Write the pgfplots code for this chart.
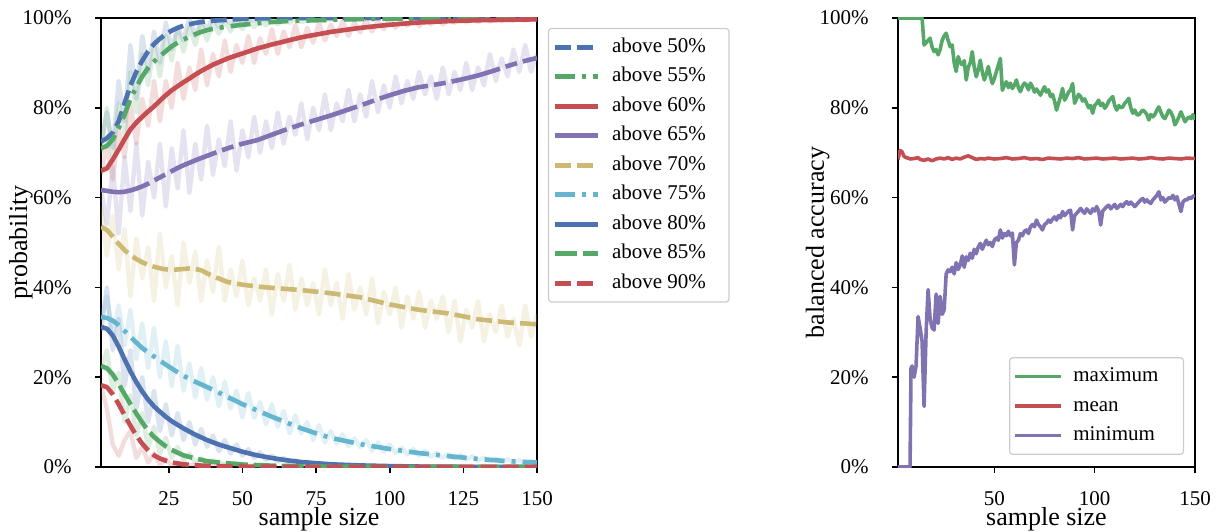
\documentclass[border=0pt]{standalone}
\usepackage{fontspec}
\setmainfont{Liberation Serif}
\usepackage{pgfplots}
\pgfplotsset{compat=1.18}
\definecolor{sbblue}{HTML}{4C72B0}
\definecolor{sbgreen}{HTML}{55A868}
\definecolor{sbred}{HTML}{C44E52}
\definecolor{sbpurple}{HTML}{8172B2}
\definecolor{sbgold}{HTML}{CCB974}
\definecolor{sbcyan}{HTML}{64B5CD}
\pgfplotsset{
  common/.style={
    scale only axis, height=224.5pt,
    ymin=0, ymax=100, xmin=2, xmax=150,
    ytick={0,20,...,100},
    /pgf/number format/assume math mode=true,
    yticklabel={\pgfmathprintnumber{\tick}\%},
    tick pos=left, tick align=outside, major tick length=3pt,
    tick style={black, line width=0.8pt},
    axis line style={black, line width=0.9pt},
    tick label style={font=\fontsize{10.5}{12}\selectfont},
    xticklabel style={anchor=base, inner ysep=0pt, yshift=-16pt},
    yticklabel style={anchor=east, inner xsep=0pt, xshift=-11.5pt},
    label style={font=\fontsize{13}{15}\selectfont},
    xlabel style={inner ysep=0pt},
    legend cell align=left,
  },
  faint/.style={line width=2.2pt, opacity=0.2, line join=round, forget plot},
  main/.style={line width=2.3pt, line join=round, line cap=butt},
  dashA/.style={dash pattern=on 8pt off 3pt},
  dashDot/.style={dash pattern=on 10pt off 3.5pt on 2pt off 3.5pt},
  dashLS/.style={dash pattern=on 25pt off 3pt on 6pt off 3pt},
  dashB/.style={dash pattern=on 11pt off 3pt},
}
\begin{document}
\begin{tikzpicture}
\path[use as bounding box] (-50.5pt,-32pt) rectangle (558pt,233.5pt);
\begin{axis}[common, at={(0pt,0pt)}, anchor=south west, width=218pt,
  xtick={25,50,...,150},
  xlabel={sample size}, ylabel={probability},
  xlabel style={at={(axis description cs:0.5,-0.1292)}, anchor=base},
  ylabel style={at={(axis description cs:-0.1697,0.5)}, anchor=base},
  legend style={at={(1.025,0.978)}, anchor=north west, draw=black!20, rounded corners=1.5pt,
    line width=0.6pt, inner sep=2pt, row sep=0pt, font=\fontsize{10.5}{12}\selectfont,
    nodes={inner sep=2.5pt, text height=7.5pt, text depth=2.25pt},
    /tikz/every odd column/.append style={column sep=3.5pt}},
  legend image code/.code={\draw[#1] (0pt,0pt) -- (21.5pt,0pt);},
]
% faint raw series
\addplot[faint, sbblue] coordinates {(2,72)(4,79)(6,71)(8,86)(10,77)(12,94)(14,82)(16,96)(18,88)(20,97)(22,90)(24,99)(26,93)(28,98)(30,95)(32,100)(34,96)(36,99.5)(38,97.5)(40,100)(42,98)(44,99.8)(46,98.8)(48,100)(50,99)(52,100)(54,99.4)(56,100)(58,99.5)(60,100)};
\addplot[faint, sbgreen] coordinates {(2,70)(4,80)(6,69)(8,81)(10,74)(12,88)(14,79)(16,92)(18,85)(20,94)(22,87)(24,96)(26,90.5)(28,97.5)(30,92.5)(32,98)(34,94)(36,99)(38,95)(40,99)(42,96.5)(44,99.3)(46,97)(48,99.5)(50,97.5)(52,99.6)(54,98)(56,99.7)(58,98.3)(60,99.8)(62,98.6)(64,99.8)(66,98.9)(68,99.9)(70,99.1)(74,99.9)(78,99.4)(82,99.9)};
\addplot[faint, sbred] coordinates {(2,65)(4,72)(6,64)(8,75)(10,69)(12,81)(14,72)(16,82)(18,76)(20,86)(22,77)(24,86)(26,80)(28,90)(30,82)(32,89)(34,84)(36,93)(38,85)(40,92)(42,87)(44,95)(46,88)(48,94)(50,90)(52,96)(54,90)(56,95.5)(58,92)(60,97.5)(62,92)(64,97)(66,93.5)(68,98.5)(70,93.5)(72,97.8)(74,94.5)(76,99)(78,95)(80,98.5)(82,96)(84,99.3)(86,96)(88,99)(90,96.8)(92,99.6)(94,97)(96,99.3)(98,97.5)(100,99.8)(102,97.8)(104,99.5)(106,98.3)(108,99.9)(110,98.2)(112,99.7)(114,98.6)(116,100)(118,98.6)(120,99.8)(122,98.9)(124,100)(126,99)(128,99.9)(130,99.1)(132,100)(134,99.2)(136,99.9)(138,99.3)(140,100)(142,99.4)(144,100)(146,99.4)(148,100)(150,99.5)};
\addplot[faint, sbpurple] coordinates {(2,62)(4,54)(6,67)(8,52)(10,69)(12,57)(14,72)(16,56)(18,68)(20,60)(22,72)(24,58)(26,71)(28,62)(30,75)(32,61)(34,72)(36,64)(38,76)(40,65)(42,73)(44,67)(46,77)(48,66)(50,75)(52,69)(54,78)(56,70)(58,77)(60,71)(62,79)(64,72)(66,78)(68,74)(70,81)(72,73)(74,80)(76,75)(78,83)(80,75)(82,81)(84,77)(86,84)(88,77)(90,83)(92,78)(94,86)(96,79)(98,85)(100,80)(102,87)(104,81)(106,86)(108,82)(110,88)(112,83)(114,87)(116,82)(118,89)(120,83)(122,88)(124,84)(126,90)(128,84)(130,89)(132,85)(134,92)(136,86)(138,91)(140,87)(142,93)(144,88)(146,94)(148,88)(150,92)};
\addplot[faint, sbgold] coordinates {(2,58)(4,47)(6,56)(8,44)(10,53)(12,38)(14,51)(16,42)(18,49)(20,37)(22,52)(24,40)(26,47)(28,36)(30,50)(32,41)(34,48)(36,37)(38,46)(40,39)(42,49)(44,37)(46,44)(48,38)(50,46)(52,36)(54,42)(56,37)(58,44)(60,34)(62,43)(64,37)(66,45)(68,35)(70,42)(72,36)(74,41)(76,34)(78,44)(80,36)(82,41)(84,33)(86,43)(88,35)(90,40)(92,34)(94,42)(96,32)(98,39)(100,34)(102,40)(104,31)(106,38)(108,33)(110,39)(112,31)(114,37)(116,33)(118,38)(120,30)(122,37)(124,28)(126,35)(128,31)(130,37)(132,28)(134,34)(136,30)(138,36)(140,29)(142,33)(144,27)(146,36)(148,29)(150,34)};
\addplot[faint, sbcyan] coordinates {(2,33)(4,38)(6,29)(8,36)(10,27)(12,35)(14,24)(16,32)(18,22)(20,31)(22,20)(24,28)(26,18)(28,27)(30,17)(32,23)(34,15.5)(36,22)(38,15)(40,20)(42,13.5)(44,19)(46,13)(48,17)(50,11)(52,16.5)(54,11)(56,14.5)(58,9.5)(60,14)(62,9)(64,12.5)(66,7.5)(68,11.5)(70,7.5)(72,10)(74,6)(76,9.3)(78,5.5)(80,8)(82,5.2)(84,7.3)(86,4.6)(88,6.4)(90,4.4)(92,6)(94,3.6)(96,5.4)(98,3.4)(100,5)(102,3.1)(104,4.3)(106,2.8)(108,4)(110,2.5)(112,3.6)(114,2.3)(116,3.2)(118,2)(120,3)(122,1.8)(124,2.7)(126,1.6)(128,2.4)(130,1.4)(132,2.1)(134,1.3)(136,1.9)(138,1.1)(140,1.7)(142,1)(144,1.5)(146,0.8)(148,1.3)(150,0.8)};
\addplot[faint, sbblue] coordinates {(2,30)(4,40)(6,26)(8,33)(10,18)(12,26)(14,13)(16,20)(18,10)(20,17)(22,8)(24,14)(26,7)(28,12)(30,6)(32,10)(34,5)(36,8.5)(38,4.5)(40,7)(42,3.5)(44,6)(46,3)(48,5)(50,2.5)(52,4)(54,2)(56,3.3)(58,1.6)(60,2.6)(62,1.2)(64,2)(66,1)(68,1.5)(70,0.8)(72,1.2)(74,0.5)(76,0.9)(78,0.4)(80,0.7)(84,0.4)(88,0.3)(90,0.2)};
\addplot[faint, sbgreen] coordinates {(2,22)(4,26)(6,17)(8,21)(10,10)(12,16)(14,7)(16,12)(18,4)(20,9)(22,3)(24,6.5)(26,2)(28,4.5)(30,1.5)(32,3)(34,1)(36,2)(38,0.7)(40,1.5)(44,0.6)(48,0.8)(52,0.3)(56,0.4)(60,0.2)};
\addplot[faint, sbred] coordinates {(2,18)(4,13)(6,5)(8,2.5)(10,6)(12,8)(14,2)(16,4.5)(18,1)(20,3)(22,0.5)(24,1.8)(26,0.3)(28,1)(30,0.2)(34,0.5)(38,0.1)(42,0.2)(46,0)};
% smoothed series
\addplot[main, sbblue, dashA] coordinates {(2,72.5)(4,73.2)(6,74.5)(8,77)(10,81)(12,85)(14,88)(16,90.5)(18,92.6)(20,94.2)(22,95.4)(24,96.4)(26,97.2)(28,97.8)(30,98.3)(32,98.6)(34,98.9)(36,99.1)(38,99.3)(40,99.4)(45,99.6)(50,99.8)(55,99.9)(60,99.95)(70,100)(150,100)};
\addlegendentry{above 50\%\kern7pt}
\addplot[main, sbgreen, dashDot] coordinates {(2,71)(4,71.5)(6,73)(8,75.5)(10,78.5)(12,82)(14,84.6)(16,87)(18,88.9)(20,90.3)(22,91.5)(24,92.6)(26,93.7)(28,94.5)(30,95.2)(32,95.8)(34,96.4)(36,96.9)(38,97.3)(40,97.6)(45,98.1)(50,98.5)(55,98.8)(60,99.1)(65,99.3)(70,99.4)(80,99.6)(90,99.75)(100,99.85)(110,99.9)(120,99.95)(130,100)(150,100)};
\addlegendentry{above 55\%}
\addplot[main, sbred] coordinates {(2,66)(4,66.5)(6,68.5)(8,70.7)(10,73)(12,75.2)(14,76.7)(16,78)(18,79.2)(20,80.3)(22,81.6)(24,82.8)(26,83.9)(28,84.8)(30,85.7)(32,86.5)(34,87.4)(36,88.2)(38,88.9)(40,89.6)(45,91)(50,92.1)(55,93.2)(60,94.1)(65,94.9)(70,95.7)(80,96.9)(90,97.8)(100,98.5)(110,99)(120,99.3)(130,99.5)(140,99.6)(150,99.7)};
\addlegendentry{above 60\%}
\addplot[main, sbpurple, dashLS] coordinates {(2,61.7)(4,61.5)(6,61.3)(8,61.2)(10,61.3)(12,61.6)(14,62)(16,62.5)(18,63.1)(20,63.8)(22,64.5)(24,65.2)(26,65.9)(28,66.6)(30,67.2)(34,68.3)(38,69.3)(42,70.3)(46,71.2)(50,72)(55,72.8)(60,74)(65,75.2)(70,76.3)(75,77.3)(80,78.3)(85,79.4)(90,80.5)(95,81.7)(100,82.8)(105,83.8)(110,84.6)(115,85.1)(120,85.7)(125,86.4)(130,87.2)(135,88.2)(140,89.3)(145,90.3)(150,91.1)};
\addlegendentry{above 65\%}
\addplot[main, sbgold, dashA] coordinates {(2,53.5)(4,52.8)(6,51.3)(8,49.7)(10,48.3)(12,47.2)(14,46.3)(16,45.6)(18,45)(20,44.6)(23,44.1)(26,43.9)(30,44.1)(33,44.3)(36,43.8)(40,42.5)(45,41.2)(50,40.6)(55,40.2)(60,39.9)(70,39.4)(80,38.7)(90,37.8)(95,37)(100,36.2)(110,35)(120,34.2)(130,32.9)(140,32.2)(150,31.8)};
\addlegendentry{above 70\%}
\addplot[main, sbcyan, dashDot] coordinates {(2,33.4)(4,33.2)(6,32.6)(8,31.6)(10,30.3)(12,29)(14,27.7)(16,26.5)(18,25.5)(20,24.6)(24,22.8)(28,21.1)(32,19.6)(36,18.4)(40,17.2)(45,15.6)(50,14)(55,12.6)(60,11.2)(65,9.9)(70,8.6)(75,7.5)(80,6.5)(90,5.1)(100,4)(110,3.1)(120,2.4)(130,1.8)(140,1.3)(150,1)};
\addlegendentry{above 75\%}
\addplot[main, sbblue] coordinates {(2,31.2)(4,30.8)(6,29.3)(8,26.8)(10,24)(12,21.3)(14,18.9)(16,16.8)(18,15)(20,13.5)(22,12.3)(24,11.2)(26,10.2)(28,9.4)(30,8.6)(34,7.2)(38,6)(42,5)(46,4.2)(50,3.4)(55,2.6)(60,2)(65,1.5)(70,1.1)(80,0.6)(90,0.35)(100,0.2)(110,0.1)(120,0.05)(150,0)};
\addlegendentry{above 80\%}
\addplot[main, sbgreen, dashB] coordinates {(2,22.5)(4,22)(6,20.6)(8,18.5)(10,16.2)(12,14)(14,11.9)(16,9.9)(18,8.1)(20,6.7)(22,5.6)(24,4.6)(26,3.8)(28,3.2)(30,2.6)(34,1.9)(38,1.3)(42,1)(50,0.55)(60,0.3)(70,0.15)(80,0.08)(100,0.03)(150,0)};
\addlegendentry{above 85\%}
\addplot[main, sbred, dashA] coordinates {(2,18.2)(4,17.8)(6,16.2)(8,14)(10,11.5)(12,9.2)(14,7)(16,5.2)(18,3.7)(20,2.6)(22,1.9)(24,1.4)(26,1)(30,0.6)(35,0.35)(40,0.2)(50,0.1)(60,0.05)(80,0)(150,0)};
\addlegendentry{above 90\%}
\end{axis}

\begin{axis}[common, at={(398.5pt,0pt)}, anchor=south west, width=148.5pt,
  xtick={50,100,150},
  xlabel={sample size}, ylabel={balanced accuracy},
  xlabel style={at={(axis description cs:0.5,-0.1292)}, anchor=base},
  ylabel style={at={(axis description cs:-0.2492,0.5)}, anchor=base},
  legend style={at={(0.963,0.027)}, anchor=south east, draw=black!20, rounded corners=1.5pt,
    line width=0.6pt, inner sep=2pt, row sep=0pt, font=\fontsize{10.5}{12}\selectfont,
    nodes={inner sep=2.5pt, text height=7.5pt, text depth=2.25pt},
    /tikz/every odd column/.append style={column sep=2.5pt}},
  legend image code/.code={\draw[#1] (0pt,0pt) -- (23pt,0pt);},
]
\addplot[sbgreen, line width=1.8pt, line join=round] coordinates {(2,100)(14,100)(15,94)(16,94.5)(17,95)(18,95.5)(19,93.5)(20,92.5)(21,93)(22,91.8)(23,93)(24,95)(25,96)(26,96.6)(27,95)(28,93.6)(29,94)(30,90)(31,88.1)(32,91.4)(33,90)(34,89.6)(35,90.5)(36,86.2)(37,89)(38,90)(39,92.5)(40,89)(41,86.9)(42,88.5)(43,90.6)(44,88)(45,86.2)(46,87.5)(47,89.2)(48,87)(49,85.4)(50,86.5)(51,88)(52,89.5)(53,91)(54,83.9)(55,85)(56,85.8)(57,84.5)(58,85.5)(59,84.3)(60,85)(61,86.2)(62,84.5)(63,83.6)(64,84.8)(65,85.5)(66,85.1)(67,84)(68,85.5)(69,84.7)(70,83.5)(71,84.2)(72,83.5)(73,82.8)(74,83.8)(75,84.7)(76,83.5)(77,84)(78,82.5)(79,83)(80,81.5)(81,79.5)(82,81)(83,82.5)(84,84.3)(85,81.7)(86,82.5)(87,83.5)(88,84)(89,85.4)(90,81)(91,82)(92,83)(93,82.5)(94,81.5)(95,82)(96,81)(97,80)(98,80.5)(99,78.8)(100,80.5)(101,81)(102,81.7)(103,80.5)(104,81)(105,79.9)(106,80.5)(107,81.5)(108,82)(109,82.5)(110,80.5)(111,79.5)(112,80.5)(113,80)(114,80.2)(115,81)(116,81.5)(117,82.1)(118,80)(119,78.8)(120,79.5)(121,78.5)(122,78.4)(123,79)(124,79.5)(125,79.1)(126,78.5)(127,77.3)(128,78.5)(129,78)(130,78.5)(131,79.5)(132,80.2)(133,79)(134,78)(135,77.6)(136,78.5)(137,79.5)(138,79)(139,78)(140,76.2)(141,77)(142,78)(143,79.1)(144,78)(145,76.9)(146,77.5)(147,78)(148,77.6)(149,78.5)(150,77.3)};
\addlegendentry{maximum\kern8pt}
\addplot[sbred, line width=1.8pt, line join=round] coordinates {(2,68.5)(3,70.5)(4,70.2)(5,69.2)(6,68.9)(7,68.8)(8,68.6)(10,68.7)(12,68.9)(13,68.5)(15,68.3)(17,68.6)(19,68.2)(21,68.6)(23,68.8)(25,68.6)(27,68.9)(29,68.5)(31,68.8)(33,68.6)(35,69)(37,69.3)(39,68.9)(41,68.5)(43,68.7)(45,68.6)(47,68.8)(50,68.6)(53,68.7)(56,68.9)(59,68.6)(62,68.7)(65,68.9)(68,68.6)(71,68.7)(74,68.5)(77,68.8)(80,68.7)(83,68.6)(86,68.8)(89,68.7)(92,68.9)(95,68.6)(98,68.7)(101,68.8)(104,68.6)(107,68.7)(110,68.8)(113,68.6)(116,68.7)(119,68.8)(122,68.6)(125,68.7)(128,68.9)(131,68.7)(134,68.6)(137,68.8)(140,68.7)(143,68.6)(146,68.8)(150,68.7)};
\addlegendentry{mean}
\addplot[sbpurple, line width=1.8pt, line join=round] coordinates {(2,0)(8,0)(8.5,22)(9,22.5)(10,20)(11,22.5)(12,33.5)(13,31)(14,28)(15,13.5)(16,30)(17,39.5)(18,33)(19,31)(20,30.5)(21,38.5)(22,32)(23,38)(24,34)(25,35)(26,43)(27,43.9)(28,43.5)(29,44.5)(30,43)(31,45.5)(32,44)(33,45)(34,47)(35,44.5)(36,46.8)(37,46)(38,47.6)(39,46.5)(40,48.5)(41,47.5)(42,49)(43,49.8)(44,48.5)(45,49.5)(46,50.5)(47,49.5)(48,50)(49,49.1)(50,50.5)(51,51)(52,50.5)(53,52.8)(54,51)(55,52)(56,51.5)(57,52.5)(58,51.5)(59,52.1)(60,45)(61,50)(62,50.5)(63,52)(64,51.5)(65,52.5)(66,52.8)(67,52)(68,53.5)(69,54)(70,53.5)(71,55)(72,54)(73,53.5)(74,52.8)(75,54)(76,54.3)(77,55)(78,54.5)(79,55.2)(80,55.7)(81,55)(82,56)(83,55.5)(84,56.9)(85,56)(86,56.5)(87,57)(88,57.2)(89,52.8)(90,56)(91,56.5)(92,57)(93,57.6)(94,57)(95,56.5)(96,57.5)(97,57)(98,56.5)(99,57.5)(100,57)(101,58)(102,57)(103,53.9)(104,57)(105,57.5)(106,58)(107,58.3)(108,57.5)(109,58)(110,58.5)(111,57.6)(112,58)(113,58.5)(114,58)(115,58.7)(116,59.1)(117,58.5)(118,59)(119,58.5)(120,58)(121,58.5)(122,59)(123,59.5)(124,59.8)(125,59)(126,59.5)(127,59)(128,58.7)(129,59.5)(130,60)(131,60.5)(132,61.3)(133,59.5)(134,60)(135,59)(136,59.5)(137,60)(138,59.8)(139,60.5)(140,59.5)(141,60.2)(142,58.5)(143,56.9)(144,59)(145,59.5)(146,59.5)(147,60)(148,59.8)(149,60.3)(150,60.5)};
\addlegendentry{minimum}
\end{axis}
\end{tikzpicture}
\end{document}
